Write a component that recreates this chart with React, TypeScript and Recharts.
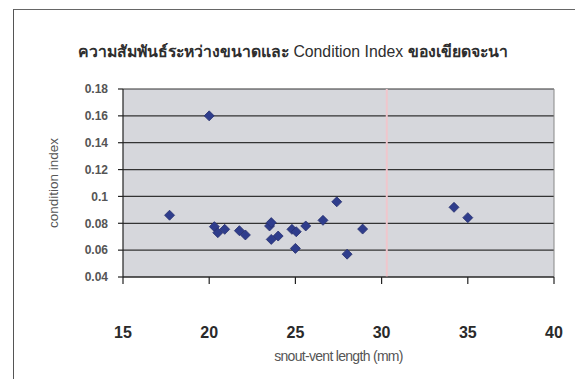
import React from "react";
import {
  ScatterChart,
  Scatter,
  XAxis,
  YAxis,
  CartesianGrid,
  ReferenceLine,
} from "recharts";

// snout-vent length (mm)
const svl = [
  17.7, 20.0, 20.3, 20.5, 20.9, 21.75, 22.1, 23.5, 23.6, 23.6, 24.0, 24.8,
  25.05, 25.0, 25.6, 26.6, 27.4, 28.0, 28.9, 34.2, 35.0,
];
// condition index
const conditionIndex = [
  0.086, 0.16, 0.0775, 0.073, 0.0755, 0.0745, 0.0713, 0.078, 0.0805, 0.068,
  0.0705, 0.0755, 0.0737, 0.0613, 0.078, 0.0822, 0.096, 0.057, 0.0757, 0.0919,
  0.0842,
];

const xTicks = [15, 20, 25, 30, 35, 40];
const yTicks = [0.04, 0.06, 0.08, 0.1, 0.12, 0.14, 0.16, 0.18];
const pinkMarkX = 30.3;

const points = svl.map((x, i) => ({ x, y: conditionIndex[i] }));

const font = '"Liberation Sans", Arial, sans-serif';

function Diamond(props: any) {
  const { cx, cy } = props;
  if (cx == null || cy == null) return null;
  const r = 5;
  return (
    <polygon
      points={`${cx},${cy - r} ${cx + r},${cy} ${cx},${cy + r} ${cx - r},${cy}`}
      fill="#2f3d8c"
      stroke="#27306e"
      strokeWidth={0.8}
    />
  );
}

function XTick(props: any) {
  const { x, y, payload } = props;
  return (
    <text
      x={x}
      y={y + 52}
      textAnchor="middle"
      fontFamily={font}
      fontSize={16}
      fontWeight="bold"
      fill="#2a2a2a"
    >
      {payload.value}
    </text>
  );
}

export default function App() {
  return (
    <div
      style={{
        position: "absolute",
        left: 0,
        top: 0,
        width: 575,
        height: 379,
        background: "#fff",
        overflow: "hidden",
      }}
    >
      <div
        style={{
          position: "absolute",
          left: 13,
          top: 9,
          width: 600,
          height: 400,
          borderLeft: "1.5px solid #555",
          borderTop: "1.5px solid #666",
        }}
      />
      <div
        style={{
          position: "absolute",
          left: 78,
          top: 39,
          fontFamily: font,
          fontSize: 15.8,
          color: "#2e2e2e",
          whiteSpace: "nowrap",
        }}
      >
        <b>ความสัมพันธ์ระหว่างขนาดและ</b> Condition Index{" "}
        <b>ของเขียดจะนา</b>
      </div>
      <ScatterChart
        width={575}
        height={379}
        margin={{ top: 89, right: 21, left: 63, bottom: 17 }}
        style={{ position: "absolute", left: 0, top: 0 }}
      >
        <CartesianGrid
          vertical={false}
          stroke="#333"
          strokeWidth={1.2}
          fill="#d6d7dc"
          fillOpacity={1}
        />
        <ReferenceLine x={pinkMarkX} stroke="#f0c6cc" strokeWidth={2} />
        <ReferenceLine x={40} stroke="#888" strokeWidth={1} />
        <XAxis
          type="number"
          dataKey="x"
          domain={[15, 40]}
          ticks={xTicks}
          height={85}
          tickSize={7}
          axisLine={{ stroke: "#222", strokeWidth: 1.2 }}
          tickLine={{ stroke: "#222", strokeWidth: 1.2 }}
          tick={<XTick />}
          label={{
            value: "snout-vent length (mm)",
            position: "insideBottom",
            offset: 1,
            style: {
              fontFamily: font,
              fontSize: 14,
              fill: "#555",
              letterSpacing: -0.7,
            },
          }}
        />
        <YAxis
          type="number"
          dataKey="y"
          domain={[0.04, 0.18]}
          ticks={yTicks}
          width={60}
          tickSize={5}
          tickMargin={10}
          axisLine={{ stroke: "#222", strokeWidth: 1.2 }}
          tickLine={{ stroke: "#222", strokeWidth: 1.2 }}
          tick={{
            fontFamily: font,
            fontSize: 12,
            fontWeight: "bold",
            fill: "#555",
          }}
          label={{
            value: "condition index",
            angle: -90,
            position: "insideLeft",
            offset: -10,
            style: {
              textAnchor: "middle",
              fontFamily: font,
              fontSize: 13.5,
              fill: "#555",
            },
          }}
        />
        <Scatter data={points} shape={<Diamond />} isAnimationActive={false} />
      </ScatterChart>
    </div>
  );
}
